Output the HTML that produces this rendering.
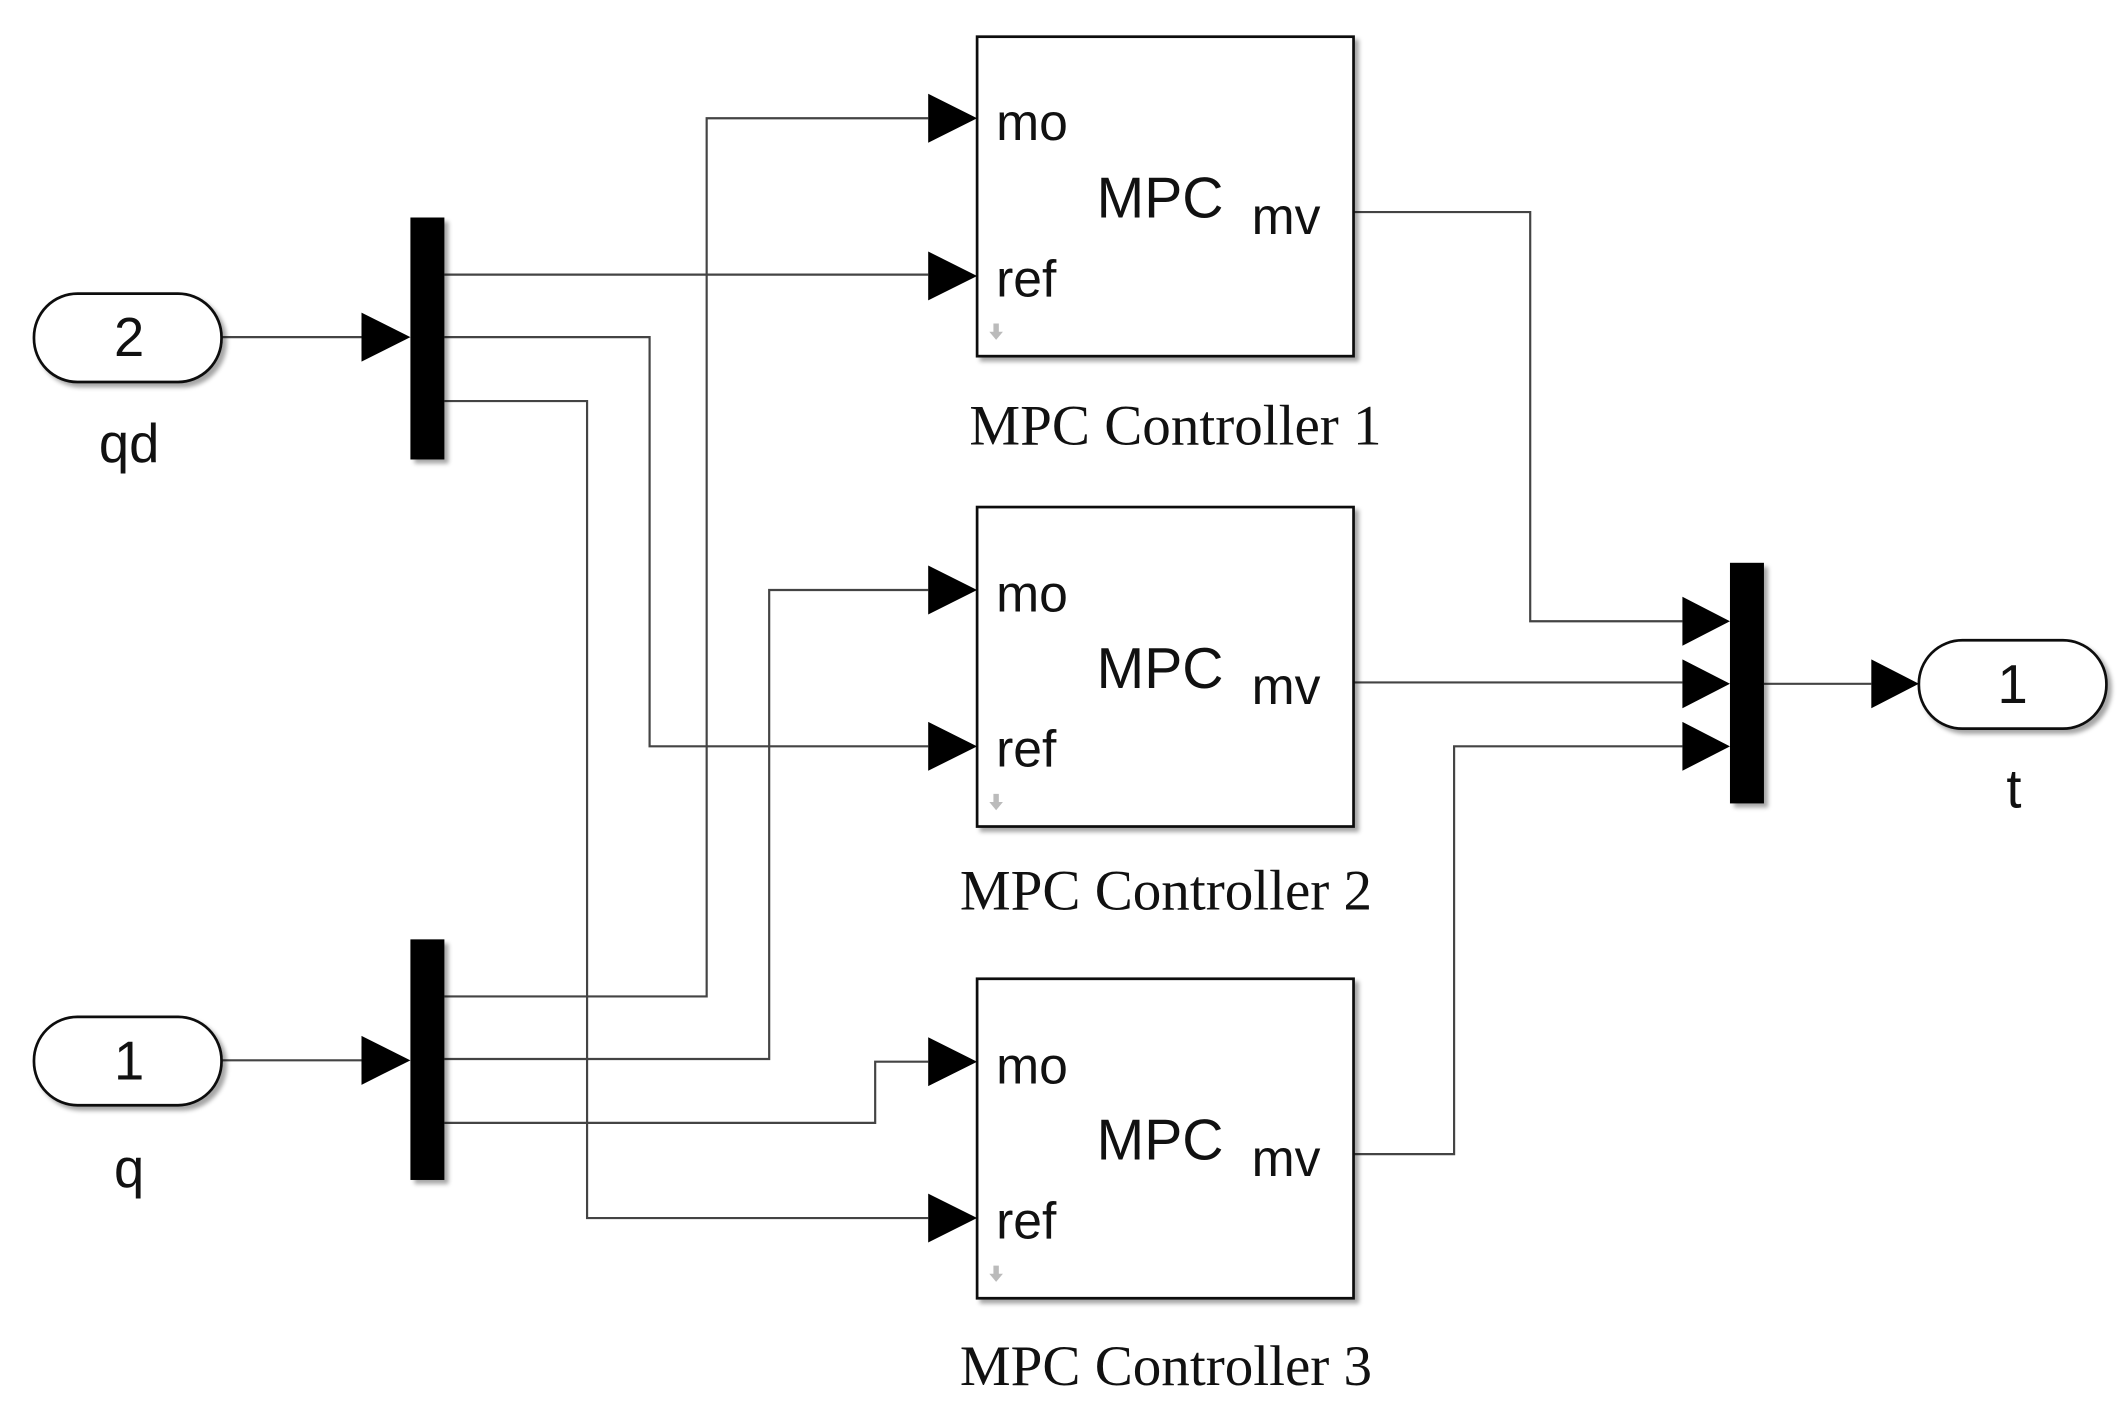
<!DOCTYPE html>
<html><head><meta charset="utf-8"><style>
html,body{margin:0;padding:0;background:#fff;}
svg{display:block;}
.s{font-family:"Liberation Sans",sans-serif;}
.r{font-family:"Liberation Serif",serif;}
</style></head><body>
<svg width="2120" height="1407" viewBox="0 0 1560 1035" preserveAspectRatio="none" xmlns="http://www.w3.org/2000/svg">
<defs>
<filter id="sh" x="-10%" y="-10%" width="130%" height="130%"><feDropShadow dx="3" dy="3" stdDeviation="1.5" flood-color="#000" flood-opacity="0.35"/></filter>
</defs>
<g fill="none" stroke="#444" stroke-width="1.6">
<!-- inputs -->
<path d="M163 248H266"/><path d="M163 780H266"/>
<!-- demux1 -->
<path d="M327 202H683"/>
<path d="M327 248H478V549H683"/>
<path d="M327 295H432V896H683"/>
<!-- demux2 -->
<path d="M327 733H520V87H683"/>
<path d="M327 779H566V434H683"/>
<path d="M327 826H644V781H683"/>
<!-- outputs -->
<path d="M996 156H1126V457H1238"/>
<path d="M996 502H1238"/>
<path d="M996 849H1070V549H1238"/>
<path d="M1298 503H1377"/>
</g>
<!-- ports -->
<g filter="url(#sh)" fill="#fff" stroke="#111" stroke-width="2">
<rect x="25" y="216" width="138" height="65" rx="32"/>
<rect x="25" y="748" width="138" height="65" rx="32"/>
<rect x="1412" y="471" width="138" height="65" rx="32"/>
<rect x="719" y="27" width="277" height="235"/>
<rect x="719" y="373" width="277" height="235"/>
<rect x="719" y="720" width="277" height="235"/>
</g>
<g filter="url(#sh)" fill="#000">
<rect x="302" y="160" width="25" height="178"/>
<rect x="302" y="691" width="25" height="177"/>
<rect x="1273" y="414" width="25" height="177"/>
</g>
<!-- arrowheads -->
<g fill="#000">
<path d="M266 230L302 248L266 266Z"/><path d="M266 762L302 780L266 798Z"/>
<path d="M683 69L719 87L683 105Z"/><path d="M683 185L719 203L683 221Z"/>
<path d="M683 416L719 434L683 452Z"/><path d="M683 531L719 549L683 567Z"/>
<path d="M683 763L719 781L683 799Z"/><path d="M683 878L719 896L683 914Z"/>
<path d="M1238 439L1273 457L1238 475Z"/><path d="M1238 485L1273 503L1238 521Z"/>
<path d="M1238 531L1273 549L1238 567Z"/>
<path d="M1377 485L1412 503L1377 521Z"/>
</g>
<g class="s" fill="#111">
<text x="95" y="262" font-size="40" text-anchor="middle">2</text>
<text x="95" y="794" font-size="40" text-anchor="middle">1</text>
<text x="1481" y="517" font-size="40" text-anchor="middle">1</text>
<text x="95" y="340" font-size="40" text-anchor="middle">qd</text>
<text x="95" y="873" font-size="40" text-anchor="middle">q</text>
<text x="1482" y="594" font-size="40" text-anchor="middle">t</text>
<g font-size="38">
<text x="733" y="103">mo</text><text x="733" y="218">ref</text>
<text x="807" y="160" font-size="42">MPC</text><text x="921" y="172">mv</text>
<text x="733" y="450">mo</text><text x="733" y="564">ref</text>
<text x="807" y="506" font-size="42">MPC</text><text x="921" y="518">mv</text>
<text x="733" y="797">mo</text><text x="733" y="911">ref</text>
<text x="807" y="853" font-size="42">MPC</text><text x="921" y="865">mv</text>
</g>
</g>
<g fill="#bbb">
<path d="M731 238h4v6h3l-5 6l-5-6h3z"/>
<path d="M731 584h4v6h3l-5 6l-5-6h3z"/>
<path d="M731 931h4v6h3l-5 6l-5-6h3z"/>
</g>
<g class="r" fill="#111" font-size="42" text-anchor="middle">
<text x="865" y="327">MPC Controller 1</text>
<text x="858" y="669">MPC Controller 2</text>
<text x="858" y="1019">MPC Controller 3</text>
</g>
</svg>
</body></html>
